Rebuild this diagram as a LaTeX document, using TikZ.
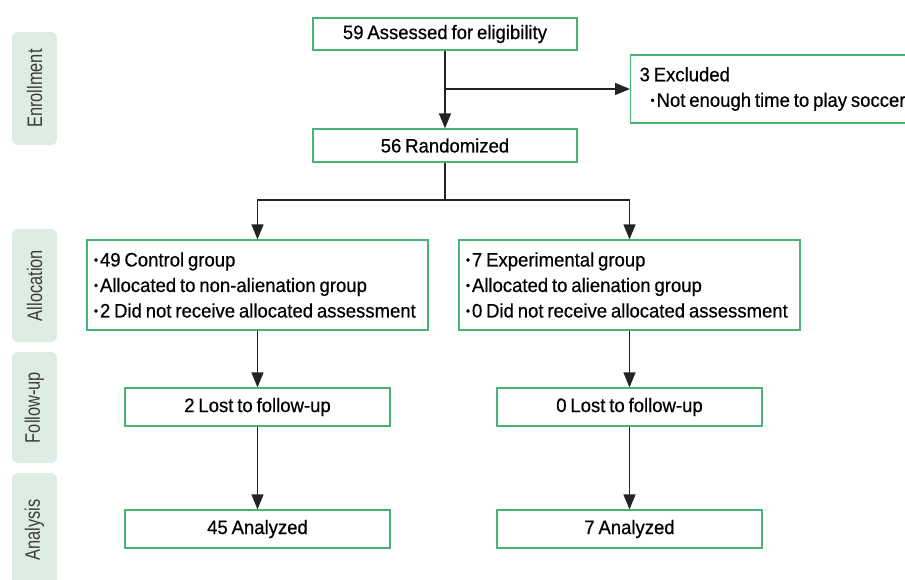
\documentclass[tikz,border=0pt]{standalone}
\usepackage{fontspec}
\setmainfont{Liberation Sans}[FakeStretch=0.95,WordSpace=0.75,FakeBold=0.5]
\newfontfamily\sidefont{Liberation Sans}[FakeStretch=0.78]
\usepackage{xcolor}
\usepackage{tikz}
\usetikzlibrary{arrows.meta}

\definecolor{boxgreen}{RGB}{72,180,115}
\definecolor{sidegreen}{RGB}{222,237,227}
\definecolor{linegray}{RGB}{35,35,35}
\definecolor{sidetext}{RGB}{60,60,60}
\newcommand{\bul}{\raisebox{2.5pt}{\fontsize{12}{12}\selectfont\textbullet}\hspace{2pt}}

\begin{document}
\begin{tikzpicture}[x=1pt,y=-1pt,
    flowbox/.style={draw=boxgreen,line width=1.2pt,fill=white,inner sep=0pt,
        font=\fontsize{19.5}{25.5}\selectfont},
    textbox/.style={flowbox,align=left,execute at begin node={\spaceskip=0pt\xspaceskip=0pt\relax}},
    listbox/.style={textbox,text width=327pt,minimum width=341pt,
        minimum height=90pt,inner xsep=7pt},
    stage/.style={fill=sidegreen,rounded corners=6pt,rotate=90,inner sep=0pt,
        minimum height=45pt,text=sidetext,font=\sidefont\fontsize{21}{21}\selectfont},
    link/.style={draw=linegray,line width=1.3pt},
    arrow/.style={link,-{Triangle[length=15pt,width=12pt]}}]
            \useasboundingbox (0,0) rectangle (905,579);

            % stage labels on the left
            \node[stage,minimum width=113pt] (enroll) at (34.5,88.5) {Enrollment};
            \node[stage,minimum width=113pt] (alloc) at (34.5,285.5) {Allocation};
            \node[stage,minimum width=111pt] (follow) at (34.5,407.5) {Follow-up};
            \node[stage,minimum width=114pt] (analys) at (34.5,530) {Analysis};

            % enrollment
            \node[flowbox,minimum width=264pt,minimum height=32pt] (assess) at (445,34) {59 Assessed for eligibility};
            \node[textbox,anchor=west,text width=290pt,inner xsep=9pt,
                minimum height=68pt] (excl) at (630,89) {3 Excluded\\\hspace{11pt}\bul Not enough time to play soccer};
            \node[flowbox,minimum width=264pt,minimum height=33pt] (rand) at (445,145.5) {56 Randomized};

            % allocation
            \node[listbox] (ctrl) at (257.5,285) {\bul 49 Control group\\\bul Allocated to non-alienation group\\\bul 2 Did not receive allocated assessment};
            \node[listbox] (expt) at (629.5,285) {\bul 7 Experimental group\\\bul Allocated to alienation group\\\bul 0 Did not receive allocated assessment};

            % follow-up and analysis
            \node[flowbox,minimum width=265pt,minimum height=38pt] (fuctrl) at (257.5,407) {2 Lost to follow-up};
            \node[flowbox,minimum width=265pt,minimum height=38pt] (fuexpt) at (629.5,407) {0 Lost to follow-up};
            \node[flowbox,minimum width=265pt,minimum height=38pt] (anctrl) at (257.5,529) {45 Analyzed};
            \node[flowbox,minimum width=265pt,minimum height=38pt] (anexpt) at (629.5,529) {7 Analyzed};

            \coordinate (split) at (445,200);
            \draw[arrow] (assess) -- (rand);
            \draw[arrow] (assess.south |- excl.west) -- (excl.west);
            \draw[link] (rand) -- (split);
            \draw[arrow] (split) -| (ctrl);
            \draw[arrow] (split) -| (expt);
            \draw[arrow] (ctrl) -- (fuctrl);
            \draw[arrow] (expt) -- (fuexpt);
            \draw[arrow] (fuctrl) -- (anctrl);
            \draw[arrow] (fuexpt) -- (anexpt);

            \end{tikzpicture}
\end{document}
